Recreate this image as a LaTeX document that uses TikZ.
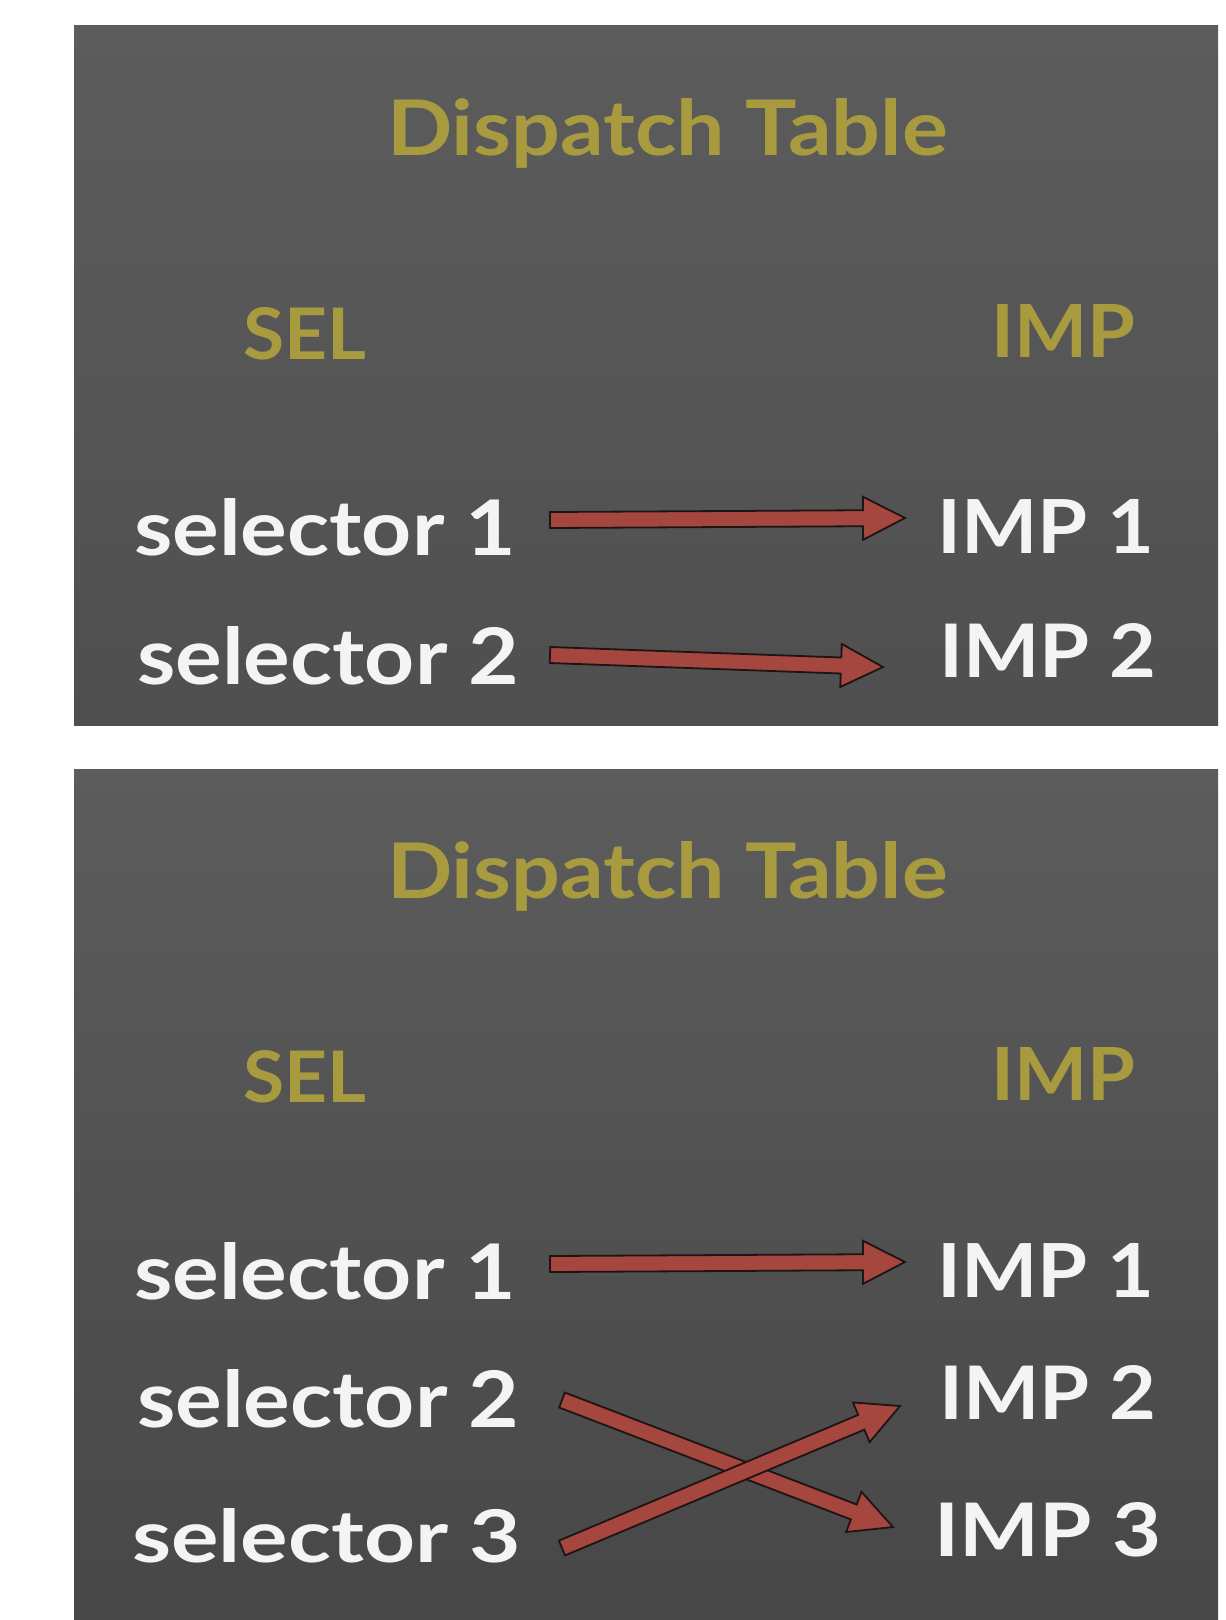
\documentclass[tikz,border=0pt]{standalone}
\usepackage{fontspec}
\setmainfont{Lato}
\usetikzlibrary{calc}
\definecolor{chalkyellow}{HTML}{A89B3F}
\definecolor{chalkwhite}{HTML}{F4F4F4}
\definecolor{arrowred}{HTML}{A5463F}
\definecolor{arrowline}{HTML}{1E1414}
\definecolor{boardtop}{HTML}{5C5C5C}
\definecolor{boardmid}{HTML}{4F4F4F}
\definecolor{boardbot}{HTML}{474747}
\newcommand{\chalktext}[3]{\resizebox{#1pt}{#2pt}{#3}}
\newcommand{\fatarrow}[2]{%
  \coordinate (fa-c) at ($(#2)!42pt!(#1)$);
  \filldraw[arrowshape] ($(#1)!8pt!90:(#2)$) -- ($(fa-c)!8pt!-90:(#1)$) -- ($(fa-c)!21.5pt!-90:(#1)$) -- (#2) -- ($(fa-c)!21.5pt!90:(#1)$) -- ($(fa-c)!8pt!90:(#1)$) -- ($(#1)!8pt!-90:(#2)$) -- cycle;}
\begin{document}
\begin{tikzpicture}[x=1pt,y=-1pt,
  head/.style={text=chalkyellow, font=\bfseries, inner sep=0pt, anchor=base west},
  entry/.style={text=chalkwhite, font=\bfseries, inner sep=0pt, anchor=base west},
  arrowshape/.style={fill=arrowred, draw=arrowline, line width=1.8pt, line join=miter}]
\useasboundingbox (0,0) rectangle (1226,1620);
\fill[white] (0,0) rectangle (1226,1620);
\shade[top color=boardtop, bottom color=boardmid] (74,25) rectangle (1218,725);
\shade[top color=boardtop, bottom color=boardbot] (74,769) rectangle (1218,1620);
% top panel
\node[head] (ta-title) at (387,155) {\chalktext{560}{57}{Dispatch Table}};
\node[head] (ta-sel) at (243,359) {\chalktext{123}{52}{SEL}};
\node[head] (ta-imp) at (991,357) {\chalktext{144}{53}{IMP}};
\node[entry] (ta-s1) at (134,555) {\chalktext{382}{57}{selector 1}};
\node[entry] (ta-i1) at (937,553) {\chalktext{217}{54}{IMP 1}};
\node[entry] (ta-s2) at (137,684) {\chalktext{382}{58}{selector 2}};
\node[entry] (ta-i2) at (939,677) {\chalktext{217}{54}{IMP 2}};
\coordinate (ta-a1s) at (550,520);
\coordinate (ta-a1e) at (905,518);
\coordinate (ta-a2s) at (550,655);
\coordinate (ta-a2e) at (883,667);
\fatarrow{ta-a1s}{ta-a1e}
\fatarrow{ta-a2s}{ta-a2e}
% bottom panel
\node[head] (tb-title) at (387,898) {\chalktext{560}{57}{Dispatch Table}};
\node[head] (tb-sel) at (243,1102) {\chalktext{123}{52}{SEL}};
\node[head] (tb-imp) at (991,1100) {\chalktext{144}{53}{IMP}};
\node[entry] (tb-s1) at (134,1299) {\chalktext{382}{57}{selector 1}};
\node[entry] (tb-i1) at (937,1297) {\chalktext{217}{54}{IMP 1}};
\node[entry] (tb-s2) at (137,1427) {\chalktext{382}{58}{selector 2}};
\node[entry] (tb-i2) at (939,1419) {\chalktext{217}{54}{IMP 2}};
\node[entry] (tb-s3) at (132,1562) {\chalktext{389}{54}{selector 3}};
\node[entry] (tb-i3) at (934,1556) {\chalktext{227}{54}{IMP 3}};
\coordinate (tb-a1s) at (550,1264);
\coordinate (tb-a1e) at (905,1262);
\coordinate (tb-a2s) at (562,1400);
\coordinate (tb-a2e) at (893,1527);
\coordinate (tb-a3s) at (562,1548);
\coordinate (tb-a3e) at (900,1406);
\fatarrow{tb-a1s}{tb-a1e}
\fatarrow{tb-a2s}{tb-a2e}
\fatarrow{tb-a3s}{tb-a3e}
\end{tikzpicture}
\end{document}
